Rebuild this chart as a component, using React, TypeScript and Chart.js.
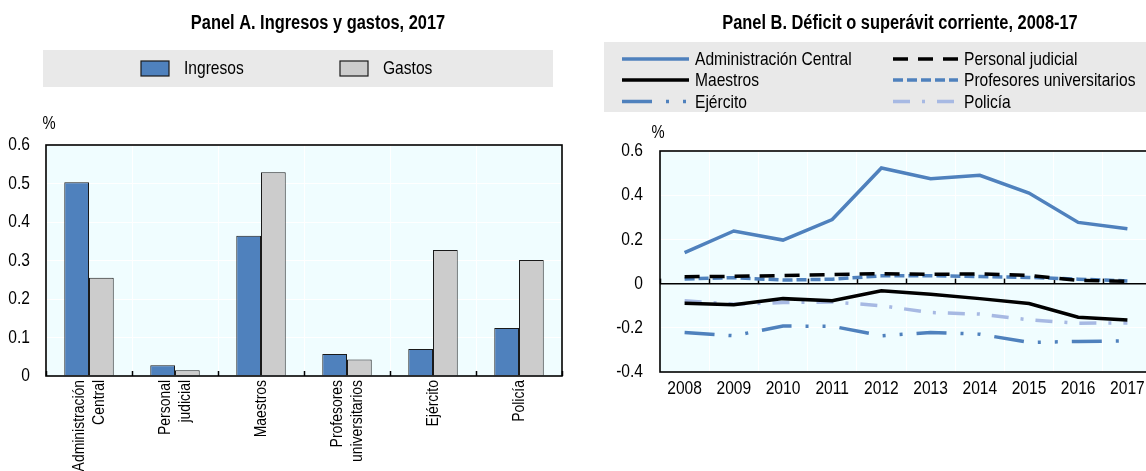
import React, { useEffect, useRef } from 'react';
import { Chart, registerables } from 'chart.js';

Chart.register(...registerables);

const FONT = "'Liberation Sans', Arial, sans-serif";
const SQ = 0.82; // horizontal squeeze -> Arial Narrow look

// ---------- Panel A data ----------
const titleA = 'Panel A. Ingresos y gastos, 2017';
const categoriesA: string[][] = [
  ['Administración', 'Central'],
  ['Personal', 'judicial'],
  ['Maestros'],
  ['Profesores', 'universitarios'],
  ['Ejército'],
  ['Policía'],
];
const seriesNamesA = ['Ingresos', 'Gastos'];
const ingresos = [0.503, 0.028, 0.364, 0.057, 0.070, 0.125];
const gastos = [0.255, 0.015, 0.529, 0.043, 0.327, 0.301];

// ---------- Panel B data ----------
const titleB = 'Panel B. Déficit o superávit corriente, 2008-17';
const years = ['2008', '2009', '2010', '2011', '2012', '2013', '2014', '2015', '2016', '2017'];
const seriesNamesB = [
  'Administración Central',
  'Personal judicial',
  'Maestros',
  'Profesores universitarios',
  'Ejército',
  'Policía',
];
const adminCentral = [0.140, 0.238, 0.197, 0.290, 0.523, 0.475, 0.490, 0.410, 0.277, 0.248];
const personalJudicial = [0.031, 0.033, 0.036, 0.041, 0.045, 0.042, 0.044, 0.037, 0.015, 0.010];
const maestros = [-0.089, -0.096, -0.068, -0.078, -0.032, -0.048, -0.068, -0.090, -0.152, -0.165];
const profesores = [0.021, 0.027, 0.016, 0.020, 0.035, 0.036, 0.032, 0.028, 0.020, 0.012];
const ejercito = [-0.221, -0.236, -0.192, -0.193, -0.236, -0.221, -0.229, -0.266, -0.262, -0.259];
const policia = [-0.078, -0.093, -0.086, -0.083, -0.100, -0.131, -0.138, -0.164, -0.179, -0.178];

const BLUE = '#4F81BD';
const LIGHTBLUE = '#A7B9E3';
const GREY = '#CCCCCC';
const PLOT_BG = '#F0FDFF';
const LEGEND_BG = '#E9E9E9';

const fmt = (v: number) => (Math.abs(v) < 1e-9 ? '0' : Number(v).toFixed(1));

function drawText(
  ctx: CanvasRenderingContext2D,
  str: string,
  x: number,
  y: number,
  font: string,
  align: CanvasTextAlign,
  baseline: CanvasTextBaseline,
  rotate = 0,
) {
  ctx.save();
  ctx.translate(x, y);
  if (rotate) ctx.rotate(rotate);
  ctx.scale(SQ, 1);
  ctx.font = font;
  ctx.fillStyle = '#000';
  ctx.textAlign = align;
  ctx.textBaseline = baseline;
  ctx.fillText(str, 0, 0);
  ctx.restore();
}

const bgPlugin = {
  id: 'plotBg',
  beforeDraw(chart: any) {
    const { ctx, chartArea: a } = chart;
    ctx.save();
    ctx.fillStyle = PLOT_BG;
    ctx.fillRect(a.left, a.top, a.right - a.left, a.bottom - a.top);
    ctx.restore();
  },
};

const framePlugin = {
  id: 'plotFrame',
  afterDatasetsDraw(chart: any) {
    const { ctx, chartArea: a } = chart;
    ctx.save();
    ctx.strokeStyle = '#000';
    ctx.lineWidth = 1.6;
    ctx.strokeRect(a.left, a.top, a.right - a.left, a.bottom - a.top);
    ctx.restore();
  },
};

// y-axis tick labels drawn from the library's scale ticks
const yLabelsPlugin = {
  id: 'yLabels',
  afterDraw(chart: any, _args: any, opts: any) {
    const { ctx } = chart;
    const ys = chart.scales.y;
    ys.ticks.forEach((t: any, i: number) => {
      drawText(ctx, fmt(t.value), ys.right - opts.pad, ys.getPixelForTick(i), `19px ${FONT}`, 'right', 'middle');
    });
  },
};

const decorA = {
  id: 'decorA',
  afterDraw(chart: any) {
    const { ctx, chartArea: a } = chart;
    drawText(ctx, titleA, 318, 29, `bold 20px ${FONT}`, 'center', 'alphabetic');
    // legend
    ctx.save();
    ctx.fillStyle = LEGEND_BG;
    ctx.fillRect(43, 50, 510, 37);
    ctx.restore();
    const swX = [141, 340];
    chart.data.datasets.forEach((ds: any, i: number) => {
      ctx.save();
      ctx.fillStyle = ds.backgroundColor;
      ctx.fillRect(swX[i], 61, 28, 15);
      ctx.strokeStyle = '#1a1a1a';
      ctx.lineWidth = 1.2;
      ctx.strokeRect(swX[i], 61, 28, 15);
      ctx.restore();
      drawText(ctx, ds.label, swX[i] + 43, 69, `19px ${FONT}`, 'left', 'middle');
    });
    drawText(ctx, '%', a.left + 3, a.top - 21, `18px ${FONT}`, 'center', 'middle');
    // category labels (rotated, centred on each category)
    const xs = chart.scales.x;
    const lh = 20;
    (chart.data.labels as string[][]).forEach((lines, i) => {
      const px = xs.getPixelForTick(i);
      lines.forEach((line, j) => {
        const off = (j - (lines.length - 1) / 2) * lh;
        drawText(ctx, line, px + off, xs.top + 4, `17px ${FONT}`, 'right', 'middle', -Math.PI / 2);
      });
    });
  },
};

const decorB = {
  id: 'decorB',
  beforeDatasetsDraw(chart: any) {
    const { ctx } = chart;
    const xs = chart.scales.x;
    const ys = chart.scales.y;
    const y0 = ys.getPixelForValue(0);
    ctx.save();
    ctx.strokeStyle = '#000';
    ctx.lineWidth = 1.5;
    for (let i = 0; i <= chart.data.labels.length; i++) {
      const x = Math.round(xs.getPixelForValue(i - 0.5)) + 0.5;
      ctx.beginPath();
      ctx.moveTo(x, y0);
      ctx.lineTo(x, y0 - 5);
      ctx.stroke();
    }
    ctx.restore();
  },
  afterDraw(chart: any) {
    const { ctx, chartArea: a } = chart;
    drawText(ctx, titleB, 320, 29, `bold 20px ${FONT}`, 'center', 'alphabetic');
    ctx.save();
    ctx.fillStyle = LEGEND_BG;
    ctx.fillRect(24, 42, 600, 70);
    ctx.restore();
    const cols = [
      { x1: 42, x2: 109, tx: 115 },
      { x1: 313, x2: 378, tx: 384 },
    ];
    const rows = [59, 80, 101.5];
    chart.data.datasets.forEach((ds: any, i: number) => {
      const c = cols[i % 2];
      const y = rows[Math.floor(i / 2)];
      ctx.save();
      ctx.strokeStyle = ds.borderColor;
      ctx.lineWidth = ds.borderWidth;
      ctx.setLineDash(ds.borderDash || []);
      ctx.beginPath();
      ctx.moveTo(c.x1, y);
      ctx.lineTo(c.x2, y);
      ctx.stroke();
      ctx.restore();
      drawText(ctx, ds.label, c.tx, y + 1, `19px ${FONT}`, 'left', 'middle');
    });
    drawText(ctx, '%', a.left - 2, a.top - 18, `18px ${FONT}`, 'center', 'middle');
    // year labels from the x scale
    const xs = chart.scales.x;
    xs.ticks.forEach((_t: any, i: number) => {
      drawText(ctx, String(chart.data.labels[i]), xs.getPixelForTick(i), a.bottom + 17, `19px ${FONT}`, 'center', 'middle');
    });
  },
};

export default function App() {
  const refA = useRef<HTMLCanvasElement>(null);
  const refB = useRef<HTMLCanvasElement>(null);

  useEffect(() => {
    document.body.style.margin = '0';
    document.body.style.overflow = 'hidden';

    const chartA = new Chart(refA.current as HTMLCanvasElement, {
      type: 'bar',
      data: {
        labels: categoriesA as any,
        datasets: [
          {
            label: seriesNamesA[0],
            data: ingresos,
            backgroundColor: BLUE,
            borderColor: '#1a1a1a',
            borderWidth: 1,
            categoryPercentage: 0.575,
            barPercentage: 1,
          },
          {
            label: seriesNamesA[1],
            data: gastos,
            backgroundColor: GREY,
            borderColor: '#1a1a1a',
            borderWidth: 1,
            categoryPercentage: 0.575,
            barPercentage: 1,
          },
        ],
      },
      options: {
        animation: false,
        responsive: false,
        events: [],
        layout: { padding: { top: 145, right: 18, left: 0, bottom: 0 } },
        plugins: {
          legend: { display: false },
          title: { display: false },
          tooltip: { enabled: false },
          yLabels: { pad: 16 },
        } as any,
        scales: {
          x: {
            offset: true,
            grid: { offset: true, color: '#FFFFFF', lineWidth: 1, tickColor: '#000', tickLength: -5, tickWidth: 1.5 },
            border: { display: false },
            ticks: { display: false },
            afterFit: (s: any) => { s.height = 95; },
          },
          y: {
            min: 0,
            max: 0.6,
            ticks: { stepSize: 0.1, display: false },
            grid: { color: '#FFFFFF', lineWidth: 1, drawTicks: false },
            border: { display: false },
            afterFit: (s: any) => { s.width = 46; },
          },
        },
      },
      plugins: [bgPlugin, framePlugin, yLabelsPlugin, decorA],
    });

    const mk = (label: string, data: number[], color: string, dash: number[]) => ({
      label,
      data,
      borderColor: color,
      backgroundColor: color,
      borderWidth: 3.5,
      borderDash: dash,
      pointRadius: 0,
      fill: false,
      tension: 0,
    });

    const chartB = new Chart(refB.current as HTMLCanvasElement, {
      type: 'line',
      data: {
        labels: years,
        datasets: [
          mk(seriesNamesB[0], adminCentral, BLUE, []),
          mk(seriesNamesB[1], personalJudicial, '#000000', [15, 10]),
          mk(seriesNamesB[2], maestros, '#000000', []),
          mk(seriesNamesB[3], profesores, BLUE, [10, 4]),
          mk(seriesNamesB[4], ejercito, BLUE, [30, 14, 3, 14, 3, 14]),
          mk(seriesNamesB[5], policia, LIGHTBLUE, [17, 12, 3, 12]),
        ],
      },
      options: {
        animation: false,
        responsive: false,
        events: [],
        layout: { padding: { top: 151, right: 28, left: 0, bottom: 0 } },
        plugins: {
          legend: { display: false },
          title: { display: false },
          tooltip: { enabled: false },
          yLabels: { pad: 17 },
        } as any,
        scales: {
          x: {
            offset: true,
            grid: { offset: true, color: '#FFFFFF', lineWidth: 1, drawTicks: false },
            border: { display: false },
            ticks: { display: false, autoSkip: false, maxRotation: 0 },
            afterFit: (s: any) => { s.height = 99; },
          },
          y: {
            min: -0.4,
            max: 0.6,
            ticks: { stepSize: 0.2, display: false },
            grid: {
              color: (c: any) => (c.tick && Math.abs(c.tick.value) < 1e-9 ? '#000000' : '#FFFFFF'),
              lineWidth: (c: any) => (c.tick && Math.abs(c.tick.value) < 1e-9 ? 1.6 : 1),
              drawTicks: false,
            },
            border: { display: false },
            afterFit: (s: any) => { s.width = 80; },
          },
        },
      },
      plugins: [bgPlugin, framePlugin, yLabelsPlugin, decorB],
    });

    return () => {
      chartA.destroy();
      chartB.destroy();
    };
  }, []);

  return (
    <div style={{ position: 'relative', width: 1146, height: 471, overflow: 'hidden', background: '#fff' }}>
      <canvas ref={refA} width={580} height={471} style={{ position: 'absolute', left: 0, top: 0, width: 580, height: 471 }} />
      <canvas ref={refB} width={600} height={471} style={{ position: 'absolute', left: 580, top: 0, width: 600, height: 471 }} />
    </div>
  );
}
